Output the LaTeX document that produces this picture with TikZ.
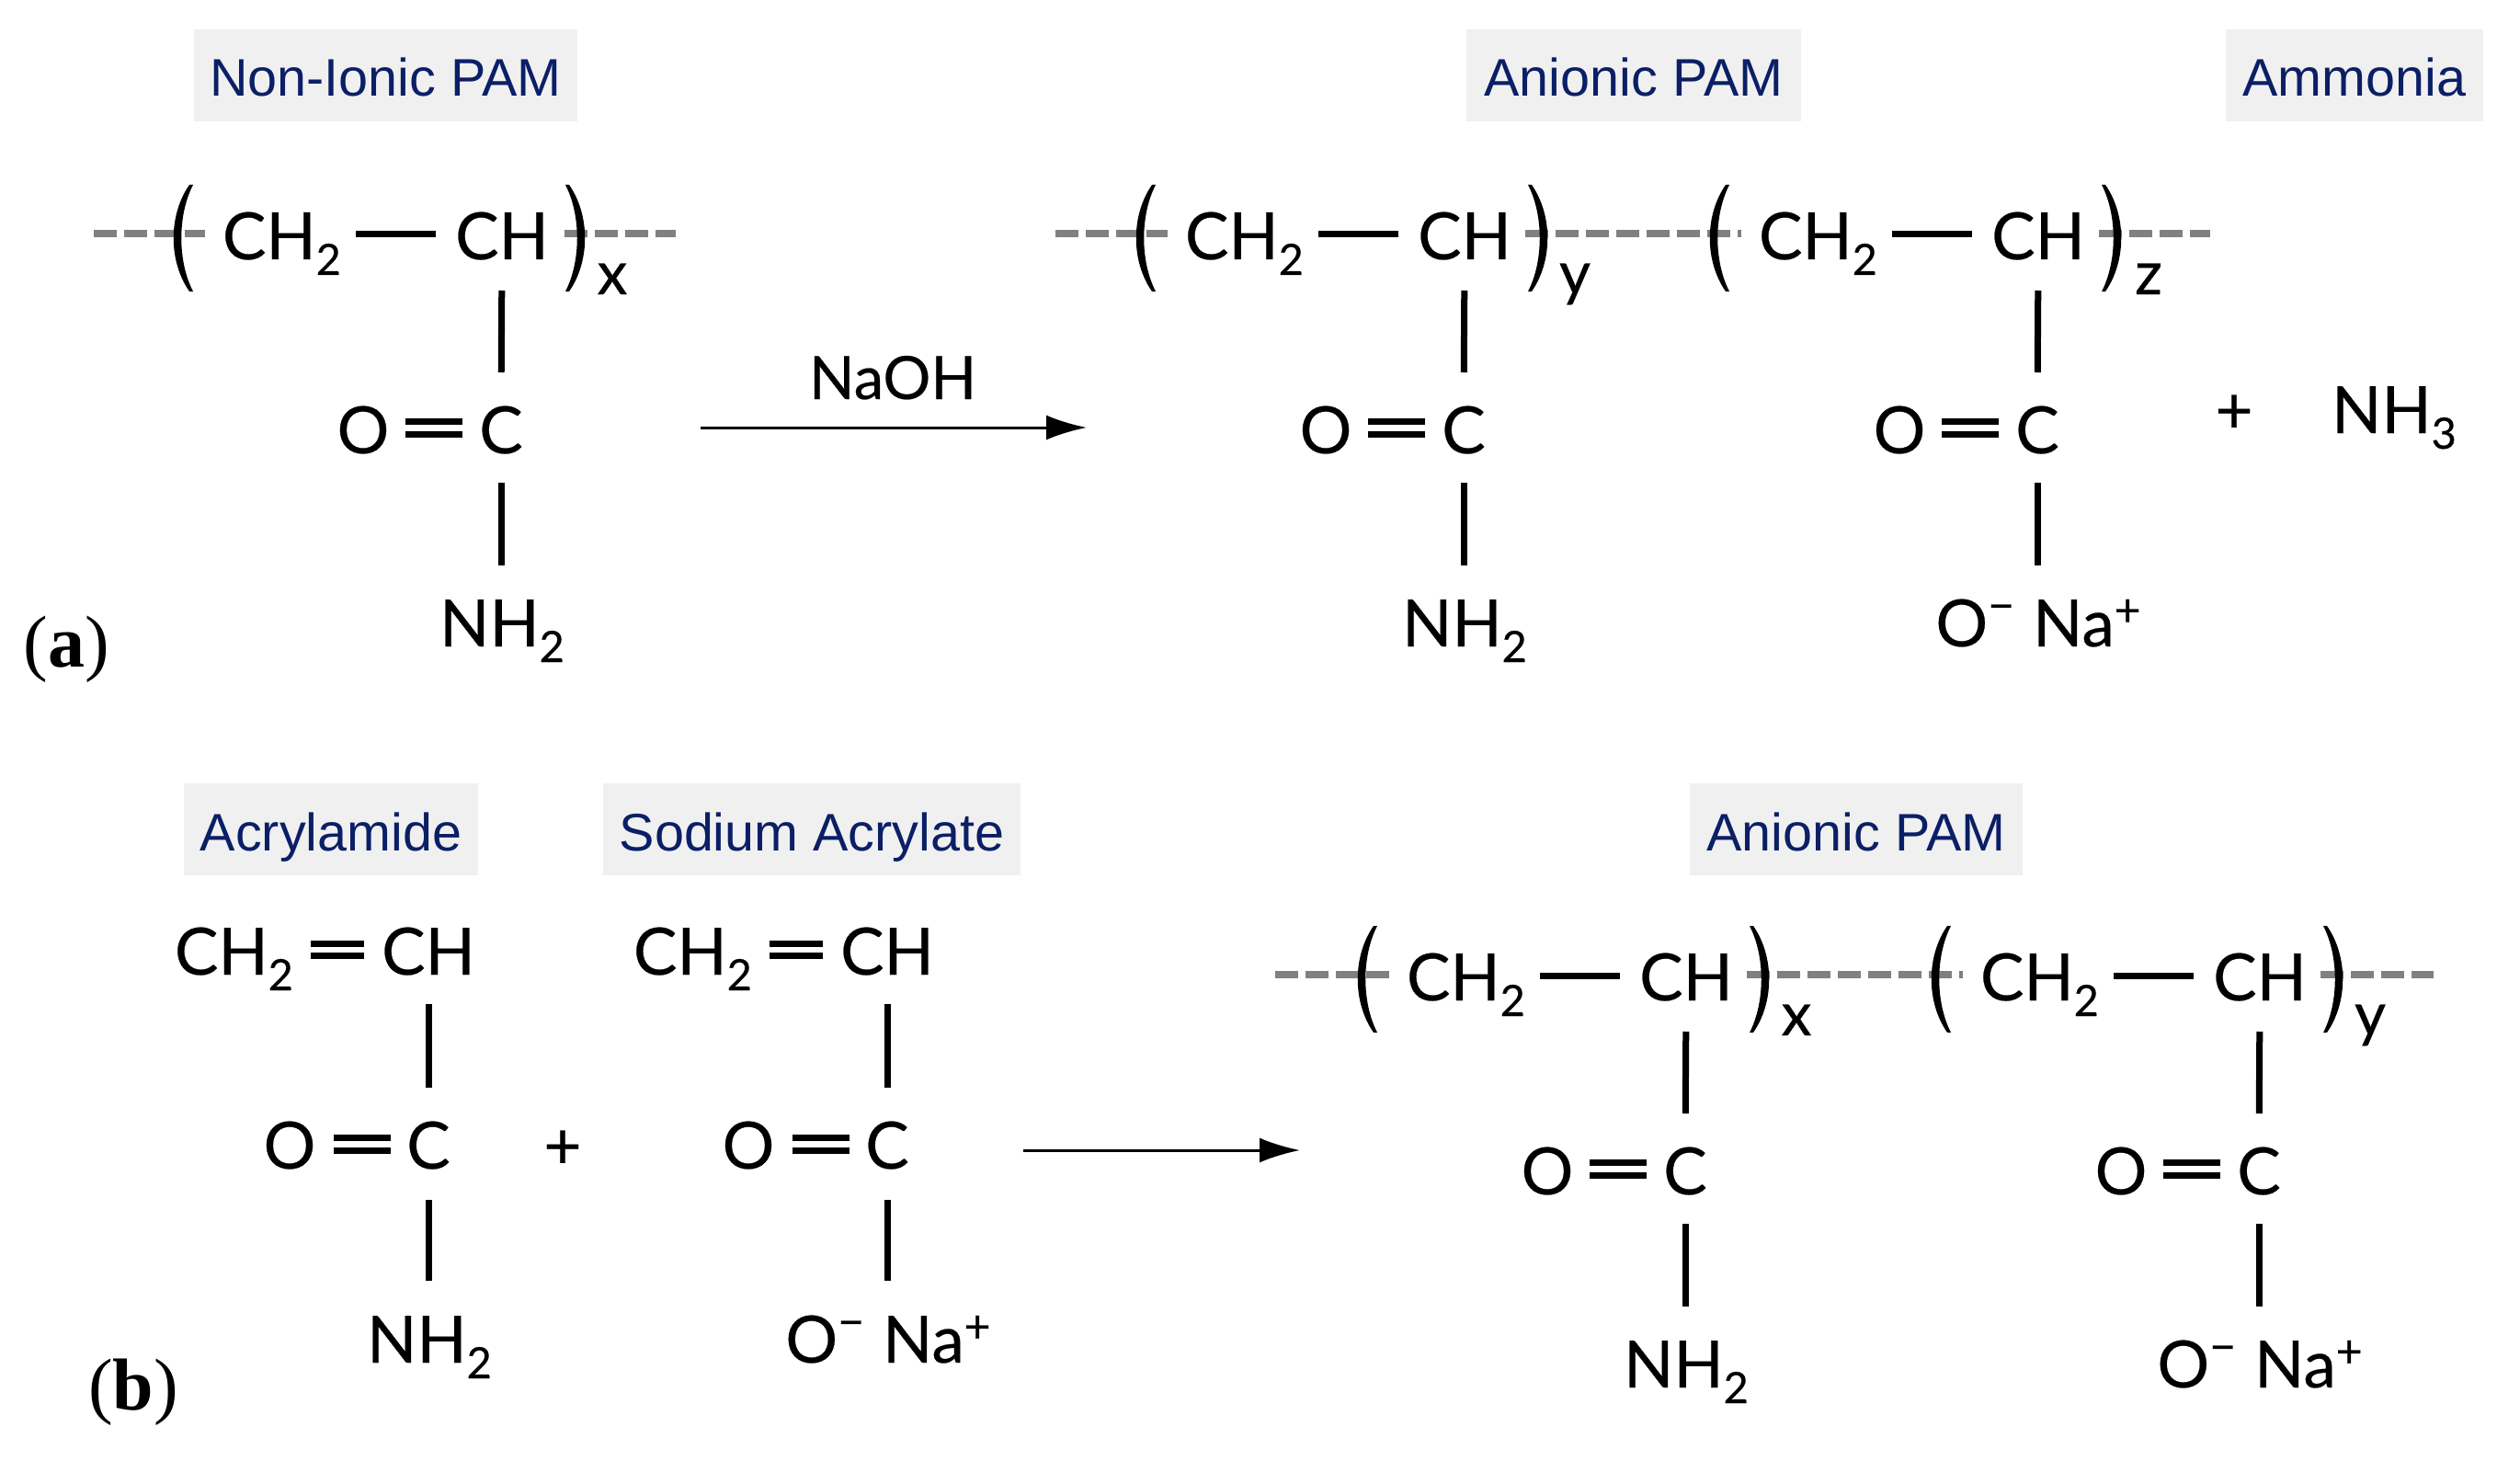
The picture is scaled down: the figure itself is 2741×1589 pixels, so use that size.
\documentclass[tikz,border=0pt]{standalone}
\usepackage{fontspec}
\setmainfont[FakeBold=0.35]{Lato}
\newfontfamily\labelfont{Liberation Sans}
\newfontfamily\tagfont{Liberation Serif}
\usetikzlibrary{arrows.meta,calc}
\definecolor{labelblue}{HTML}{0B1F66}
\definecolor{labelbg}{HTML}{F0F0F0}
\definecolor{dashgray}{HTML}{808080}
\newcommand\chemsub[1]{\raisebox{-17pt}{\fontsize{47}{47}\selectfont #1}}
\newcommand\chemsup[2]{\raisebox{#1}{\fontsize{50}{50}\selectfont #2}}
\newcommand\cation{O\chemsup{27pt}{−}\hspace{20pt}Na\chemsup{22pt}{+}}
\tikzset{
  x=1pt,y=-1pt,
  chem/.style={inner sep=0pt,outer sep=0pt,anchor=base,text height=50pt,text depth=0pt,font=\fontsize{71}{71}\selectfont},
  chemw/.style={chem,anchor=base west},
  idx/.style={inner sep=0pt,anchor=base,font=\fontsize{66}{66}\selectfont},
  bond/.style={line width=7pt,black},
  dbond/.style={line width=7pt,black},
  chain/.style={line width=8pt,dashgray,dash pattern=on 25pt off 8pt},
  lab/.style={inner sep=0pt,anchor=base,fill=labelbg,text=labelblue,text height=73pt,text depth=27pt,font=\labelfont\fontsize{57.5}{57.5}\selectfont},
  reactarrow/.style={line width=3pt,-{Latex[length=44pt,width=27pt]}},
  tagtext/.style={inner sep=0pt,anchor=base,font=\tagfont\fontsize{80}{80}\selectfont},
}
% parenthesis, tapered: #1 tip x, #2 belly x, #3 y of middle
\newcommand\tparen[3]{%
  \fill ({#1},{#3-58}) .. controls ({#2+1},{#3-25}) and ({#2+1},{#3+25}) .. ({#1},{#3+58})
     -- ({#1-4},{#3+58}) .. controls ({#2-9},{#3+25}) and ({#2-9},{#3-25}) .. ({#1-4},{#3-58}) -- cycle;}
\newcommand\tparenr[3]{%
  \fill ({#1},{#3-58}) .. controls ({#2-1},{#3-25}) and ({#2-1},{#3+25}) .. ({#1},{#3+58})
     -- ({#1+4},{#3+58}) .. controls ({#2+9},{#3+25}) and ({#2+9},{#3-25}) .. ({#1+4},{#3-58}) -- cycle;}
% polymer unit: name, anchor x, y offset, index letter, bottom text
\newcommand\polyunit[5]{%
  \node[chemw] (#1ch2) at ({#2-303},{#3+282}) {CH\chemsub{2}};
  \node[chem] (#1ch) at ({#2+1},{#3+282}) {CH};
  \node[chem] (#1o) at ({#2-150},{#3+493}) {O};
  \node[chem] (#1c) at ({#2},{#3+493}) {C};
  \node[chem] (#1b) at ({#2+1},{#3+703}) {#5};
  \node[idx] (#1i) at ({#2+121},{#3+320}) {#4};
  \tparen{#2-335}{#2-353}{#3+259}
  \tparenr{#2+70}{#2+88}{#3+259}
  \draw[bond,shorten <=16pt,shorten >=21pt] ([yshift=2pt]#1ch2.east) -- ([yshift=2pt]#1ch.west);
  \draw[bond,shorten <=34pt,shorten >=38pt] (#1ch.south) -- (#1c.north);
  \draw[bond,shorten <=32pt,shorten >=38pt] (#1c.south) -- (#1b.north-|#1c.south);
  \draw[dbond,shorten <=18pt,shorten >=18pt] ([yshift=10pt]#1o.east) -- ([yshift=10pt]#1c.west);
  \draw[dbond,shorten <=18pt,shorten >=18pt] ([yshift=-4pt]#1o.east) -- ([yshift=-4pt]#1c.west);
}
% monomer: name, anchor x, bottom text
\newcommand\monomer[3]{%
  \node[chemw] (#1ch2) at ({#2-277},1060) {CH\chemsub{2}};
  \node[chem] (#1ch) at ({#2-1},1060) {CH};
  \node[chem] (#1o) at ({#2-152},1271) {O};
  \node[chem] (#1c) at ({#2-1},1271) {C};
  \node[chem] (#1b) at ({#2},1482) {#3};
  \draw[bond,shorten <=32pt,shorten >=38pt] (#1ch.south) -- (#1c.north);
  \draw[bond,shorten <=34pt,shorten >=39pt] (#1c.south) -- (#1b.north-|#1c.south);
  \draw[dbond,shorten <=19pt,shorten >=19pt] ([yshift=9pt]#1ch2.east) -- ([yshift=9pt]#1ch.west);
  \draw[dbond,shorten <=19pt,shorten >=19pt] ([yshift=-4pt]#1ch2.east) -- ([yshift=-4pt]#1ch.west);
  \draw[dbond,shorten <=20pt,shorten >=17pt] ([yshift=9pt]#1o.east) -- ([yshift=9pt]#1c.west);
  \draw[dbond,shorten <=20pt,shorten >=17pt] ([yshift=-5pt]#1o.east) -- ([yshift=-5pt]#1c.west);
}
\begin{document}
\begin{tikzpicture}
\useasboundingbox (0,0) rectangle (2741,1589);
% labels
\node[lab,minimum width=417pt] (lnon) at (419.5,105) {Non-Ionic PAM};
\node[lab,minimum width=364pt] (lan) at (1777,105) {Anionic PAM};
\node[lab,minimum width=280pt] (lam) at (2561,105) {Ammonia};
\node[lab,minimum width=320pt] (lacr) at (360,925) {Acrylamide};
\node[lab,minimum width=454pt] (lsod) at (883,925) {Sodium Acrylate};
\node[lab,minimum width=362pt] (lan2) at (2019,925) {Anionic PAM};
% chain dashes
\coordinate (a1) at (102,254); \coordinate (a2) at (223,254);
\coordinate (a3) at (614,254); \coordinate (a4) at (735,254);
\draw[chain] (a1) -- (a2); \draw[chain] (a3) -- (a4);
\coordinate (c1) at (1148,254); \coordinate (c2) at (1270,254);
\coordinate (c3) at (1659,254); \coordinate (c4) at (1894,254);
\coordinate (c5) at (2283,254); \coordinate (c6) at (2404,254);
\draw[chain] (c1) -- (c2); \draw[chain] (c3) -- (c4); \draw[chain] (c5) -- (c6);
\coordinate (d1) at (1387,1060); \coordinate (d2) at (1511,1060);
\coordinate (d3) at (1900,1060); \coordinate (d4) at (2135,1060);
\coordinate (d5) at (2524,1060); \coordinate (d6) at (2647,1060);
\draw[chain] (d1) -- (d2); \draw[chain] (d3) -- (d4); \draw[chain] (d5) -- (d6);
% units
\polyunit{p}{545}{0}{x}{NH\chemsub{2}}
\polyunit{q}{1592}{0}{y}{NH\chemsub{2}}
\polyunit{r}{2216}{0}{z}{\cation}
\polyunit{s}{1833}{806}{x}{NH\chemsub{2}}
\polyunit{t}{2457}{806}{y}{\cation}
\monomer{m}{467}{NH\chemsub{2}}
\monomer{n}{966}{\cation}
% other text
\node[chem] (plusa) at (2430,471) {+};
\node[chem] (nh3) at (2604,471) {NH\chemsub{3}};
\node[chem] (plusb) at (612,1271) {+};
\node[chem,font=\fontsize{65}{65}\selectfont] (naoh) at (971,434) {NaOH};
\node[tagtext] (taga) at (72,725) {(\textbf{a})};
\node[tagtext] (tagb) at (145,1533) {(\textbf{b})};
% arrows
\coordinate (ar1) at (762,465); \coordinate (ar2) at (1182,465);
\draw[reactarrow] (ar1) -- (ar2);
\coordinate (br1) at (1113,1251); \coordinate (br2) at (1414,1251);
\draw[reactarrow] (br1) -- (br2);
\end{tikzpicture}
\end{document}
